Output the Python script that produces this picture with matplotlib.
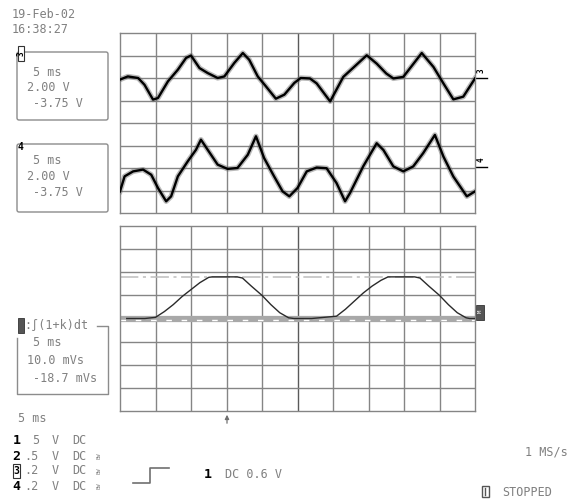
import matplotlib
matplotlib.use("Agg")
import matplotlib.pyplot as plt
from matplotlib.patches import Rectangle, FancyBboxPatch

plt.rcParams['font.family'] = ['DejaVu Sans Mono', 'DejaVu Sans']

# ---------------- data (divisions: x 0..10, y 0..8) ----------------
ch3_x = [0.0, 0.22, 0.51, 0.69, 0.93, 1.07, 1.35, 1.63, 1.86, 2.0, 2.24, 2.47, 2.75, 2.94,
         3.22, 3.46, 3.64, 3.88, 4.11, 4.39, 4.63, 4.91, 5.09, 5.35, 5.54, 5.92, 6.29, 6.6,
         6.95, 7.23, 7.5, 7.7, 7.98, 8.25, 8.5, 8.83, 9.11, 9.39, 9.67, 10.0]
ch3_y = [5.93, 6.07, 6.0, 5.70, 5.04, 5.11, 5.85, 6.37, 6.89, 7.0, 6.44, 6.22, 6.0, 6.07,
         6.67, 7.11, 6.81, 6.07, 5.63, 5.08, 5.26, 5.78, 6.0, 5.98, 5.76, 4.96, 6.05, 6.5,
         7.01, 6.64, 6.2, 5.98, 6.05, 6.6, 7.11, 6.49, 5.76, 5.05, 5.17, 5.98]

ch4_x = [0.0, 0.13, 0.37, 0.65, 0.88, 1.07, 1.30, 1.44, 1.63, 1.91, 2.14, 2.28, 2.47, 2.75,
         3.03, 3.31, 3.60, 3.83, 4.06, 4.34, 4.58, 4.77, 5.0, 5.26, 5.54, 5.82, 6.10, 6.34,
         6.48, 6.85, 7.23, 7.42, 7.70, 7.98, 8.26, 8.54, 8.87, 9.11, 9.39, 9.77, 10.0]
ch4_y = [0.96, 1.63, 1.85, 1.93, 1.70, 1.11, 0.52, 0.74, 1.63, 2.30, 2.81, 3.26, 2.81, 2.15,
         1.96, 2.0, 2.59, 3.41, 2.44, 1.63, 0.96, 0.74, 1.11, 1.85, 2.02, 1.99, 1.33, 0.52,
         0.89, 2.07, 3.1, 2.8, 2.07, 1.85, 2.07, 2.66, 3.47, 2.51, 1.62, 0.74, 0.96]

math_x = [0.19, 0.7, 1.0, 1.25, 1.5, 1.75, 2.0, 2.25, 2.5, 2.6, 3.3, 3.45, 3.7, 4.0, 4.25,
          4.5, 4.75, 4.9, 5.4, 6.1, 6.35, 6.6, 6.85, 7.1, 7.35, 7.55, 8.3, 8.45, 8.7, 9.0,
          9.25, 9.5, 9.75, 9.85, 10.0]
math_y = [4.0, 4.0, 4.05, 4.3, 4.6, 4.95, 5.25, 5.55, 5.78, 5.8, 5.8, 5.75, 5.4, 5.0, 4.6,
          4.25, 4.03, 4.0, 4.0, 4.1, 4.4, 4.75, 5.1, 5.4, 5.65, 5.8, 5.8, 5.75, 5.4, 5.0,
          4.6, 4.25, 4.03, 4.0, 4.0]
math_ref_level = 4.0
math_cursor_level = 5.8

date_text = "19-Feb-02"
time_text = "16:38:27"
box1_lines = ["5 ms", "2.00 V", "-3.75 V"]
box2_lines = ["5 ms", "2.00 V", "-3.75 V"]
box3_title = ":\u222b(1+k)dt"
box3_lines = ["5 ms", "10.0 mVs", "-18.7 mVs"]
timebase = "5 ms"
chan_rows = [("1", "5", "V", "DC", False), ("2", ".5", "V", "DC", True),
             ("3", ".2", "V", "DC", True), ("4", ".2", "V", "DC", True)]
trigger_text = "DC 0.6 V"
rate_text = "1 MS/s"
status_text = "STOPPED"

W, H = 569, 501
fig = plt.figure(figsize=(W / 100, H / 100), dpi=100)
fig.patch.set_facecolor("white")

GRID = "#858585"
TXT = "#808080"

# overlay in pixel coordinates
ov = fig.add_axes([0, 0, 1, 1])
ov.set_xlim(0, W)
ov.set_ylim(H, 0)
ov.axis("off")
ov.patch.set_alpha(0)


def grid_axes(rect):
    ax = fig.add_axes(rect)
    ax.set_xlim(0, 10)
    ax.set_ylim(0, 8)
    ax.set_xticks([])
    ax.set_yticks([])
    for s in ax.spines.values():
        s.set_color(GRID)
        s.set_linewidth(1.0)
    for i in range(1, 10):
        ax.axvline(i, color="#5a5a5a" if i == 5 else GRID, lw=1.0, zorder=1)
    for j in range(1, 8):
        ax.axhline(j, color=GRID, lw=1.0, zorder=1)
    return ax


ax_top = grid_axes([120 / W, 1 - 213 / H, 355 / W, 180 / H])
ax_bot = grid_axes([120 / W, 1 - 411 / H, 355 / W, 185 / H])

for xs, ys in ((ch3_x, ch3_y), (ch4_x, ch4_y)):
    ax_top.plot(xs, ys, color="#666666", lw=3.8, alpha=0.45, solid_joinstyle="round", zorder=3)
    ax_top.plot(xs, ys, color="black", lw=1.7, solid_joinstyle="round", zorder=4)

ax_bot.axhline(math_ref_level, color="#a8a8a8", lw=4.5, zorder=2)
ax_bot.axhline(math_ref_level - 0.06, color="white", lw=1.0, dashes=(4, 7), zorder=2.5)
ax_bot.axhline(math_cursor_level, color="#bdbdbd", lw=1.1, dashes=(12, 3, 2, 3), zorder=2)
ax_bot.plot(math_x, math_y, color="#2a2a2a", lw=1.0, zorder=4)

# ---------------- text & decorations ----------------
fs = 8.5
ov.text(12, 14, date_text, fontsize=fs, color=TXT, va="center")
ov.text(12, 29, time_text, fontsize=fs, color=TXT, va="center")


def box(y0, y1):
    ov.add_patch(FancyBboxPatch((17, y0), 91, y1 - y0, boxstyle="round,pad=0,rounding_size=2",
                                fill=False, ec="#8c8c8c", lw=1.0))


box(52, 120)
box(144, 212)
for i, t in enumerate(box1_lines):
    ov.text([33, 27, 33][i], [72, 87, 103][i], t, fontsize=fs, color=TXT, va="center")
for i, t in enumerate(box2_lines):
    ov.text([33, 27, 33][i], [161, 176, 193][i], t, fontsize=fs, color=TXT, va="center")
ov.add_patch(Rectangle((18, 46), 6, 15, fc="white", ec="#333333", lw=0.8))
ov.text(21, 53.5, "3", fontsize=5.5, color="black", rotation=90, ha="center", va="center",
        fontweight="bold")
ov.text(21, 147, "4", fontsize=7, color="black", ha="center", va="center", fontweight="bold")

# math box
ov.plot([97, 108, 108, 17, 17], [326, 326, 394, 394, 338], color="#8c8c8c", lw=1.0)
ov.add_patch(Rectangle((18, 318), 6, 15, fc="#555555", ec="#333333", lw=0.6))
ov.text(24, 325, box3_title, fontsize=fs, color=TXT, va="center")
for i, t in enumerate(box3_lines):
    ov.text([33, 27, 33][i], [343, 361, 378][i], t, fontsize=fs, color=TXT, va="center")

# right-hand channel markers
ov.plot([475, 487], [78, 78], color="black", lw=1.0)
ov.text(481, 71, "3", fontsize=5.5, rotation=90, ha="center", va="center", fontweight="bold")
ov.plot([475, 487], [167, 167], color="black", lw=1.0)
ov.text(481, 160, "4", fontsize=5.5, rotation=90, ha="center", va="center", fontweight="bold")
ov.add_patch(Rectangle((476, 305), 8, 15, fc="#555555", ec="#333333", lw=0.6))
ov.text(480, 311, "M", fontsize=4, color="white", rotation=90, ha="center", va="center")

# trigger arrow under lower grid
ov.annotate("", xy=(227, 412), xytext=(227, 426),
            arrowprops=dict(arrowstyle="-|>", color="#707070", lw=0.9, mutation_scale=6))

# bottom status area
ov.text(18, 418, timebase, fontsize=fs, color=TXT, va="center")
row_y = [441, 456, 471, 486]
for (num, val, unit, cpl, bw), y in zip(chan_rows, row_y):
    if num == "3":
        ov.add_patch(Rectangle((13, y - 7), 7, 14, fc="white", ec="#333333", lw=0.8))
        ov.text(16.5, y, num, fontsize=7, color="black", ha="center", va="center",
                fontweight="bold")
    else:
        ov.text(16.5, y, num, fontsize=9.5, color="black", ha="center", va="center",
                fontweight="bold")
    ov.text(39, y, val, fontsize=fs, color=TXT, ha="right", va="center")
    ov.text(52, y, unit, fontsize=fs, color=TXT, va="center")
    ov.text(72, y, cpl, fontsize=fs, color=TXT, va="center")
    if bw:
        ov.text(99, y, "BW", fontsize=4, color=TXT, rotation=90, ha="center", va="center")

ov.plot([133, 150, 150, 169], [483, 483, 468, 468], color="#707070", lw=1.2)
ov.text(208, 474, "1", fontsize=9.5, color="black", ha="center", va="center", fontweight="bold")
ov.text(225, 474, trigger_text, fontsize=fs, color=TXT, va="center")

ov.text(568, 452, rate_text, fontsize=fs, color=TXT, ha="right", va="center")
ov.add_patch(Rectangle((482, 486), 7, 11, fill=False, ec="#555555", lw=1.0))
ov.plot([485.5, 485.5], [488, 495], color="#555555", lw=1.0)
ov.text(502, 492, status_text, fontsize=fs, color=TXT, va="center")

fig.savefig("out.png", dpi=100, facecolor="white")
